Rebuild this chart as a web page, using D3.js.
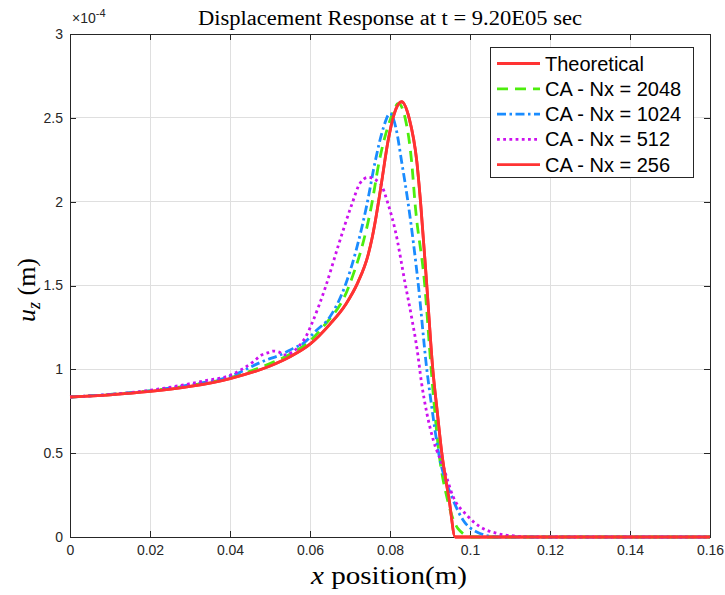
<!DOCTYPE html>
<html><head><meta charset="utf-8">
<script src="https://cdn.jsdelivr.net/npm/d3@7"></script>
<style>body{margin:0;background:#fff}</style>
</head><body>
<svg id="chart" width="725" height="595"></svg>
<script>
// ---------- data (y in units of 1e-4 m) ----------
const xTicks = [0, 0.02, 0.04, 0.06, 0.08, 0.1, 0.12, 0.14, 0.16];
const yTicks = [0, 0.5, 1, 1.5, 2, 2.5, 3];
const xTickLabels = ["0", "0.02", "0.04", "0.06", "0.08", "0.1", "0.12", "0.14", "0.16"];
const yTickLabels = ["0", "0.5", "1", "1.5", "2", "2.5", "3"];
const seriesNames = ["Theoretical", "CA - Nx = 2048", "CA - Nx = 1024", "CA - Nx = 512", "CA - Nx = 256"];

const xTheo = [0, 0.01, 0.02, 0.03, 0.04, 0.05, 0.055, 0.06, 0.065, 0.069, 0.072, 0.0745, 0.0755, 0.0763, 0.0778, 0.0795, 0.081, 0.0829, 0.0848, 0.0867, 0.0877, 0.0892, 0.0907, 0.0918, 0.0929, 0.0948, 0.0963, 0.1, 0.16];
const yTheo = [0.835, 0.848, 0.868, 0.898, 0.945, 1.02, 1.075, 1.15, 1.27, 1.39, 1.52, 1.68, 1.78, 1.88, 2.1, 2.36, 2.52, 2.596, 2.497, 2.24, 1.98, 1.5, 1.0, 0.75, 0.51, 0.22, 0, 0, 0];

const x2048 = [0, 0.01, 0.02, 0.03, 0.04, 0.05, 0.055, 0.06, 0.0633, 0.0698, 0.0754, 0.0773, 0.0802, 0.0821, 0.0838, 0.0854, 0.0863, 0.0887, 0.0903, 0.0922, 0.0944, 0.097, 0.1004, 0.16];
const y2048 = [0.835, 0.85, 0.872, 0.903, 0.95, 1.035, 1.09, 1.17, 1.254, 1.5, 1.98, 2.24, 2.497, 2.586, 2.497, 2.24, 1.98, 1.5, 1.0, 0.51, 0.22, 0.05, 0, 0];

const x1024 = [0, 0.01, 0.02, 0.03, 0.04, 0.0475, 0.049, 0.0525, 0.0558, 0.0583, 0.0615, 0.065, 0.0688, 0.0742, 0.0763, 0.0783, 0.08, 0.0815, 0.0829, 0.0846, 0.0871, 0.0892, 0.0902, 0.0921, 0.0958, 0.0983, 0.1017, 0.1067, 0.16];
const y1024 = [0.835, 0.85, 0.872, 0.908, 0.958, 1.04, 1.055, 1.085, 1.125, 1.155, 1.23, 1.314, 1.5, 1.98, 2.24, 2.437, 2.526, 2.437, 2.24, 1.98, 1.5, 1.0, 0.817, 0.51, 0.22, 0.1, 0.03, 0, 0];

const x512 = [0, 0.01, 0.02, 0.0333, 0.04, 0.0458, 0.0479, 0.0496, 0.0508, 0.0523, 0.0533, 0.0575, 0.0592, 0.0605, 0.064, 0.0671, 0.0704, 0.0725, 0.0745, 0.0775, 0.0796, 0.0813, 0.0838, 0.0854, 0.0868, 0.0879, 0.0892, 0.0908, 0.0933, 0.0958, 0.0992, 0.1025, 0.1067, 0.1117, 0.116, 0.16];
const y512 = [0.835, 0.85, 0.875, 0.93, 0.965, 1.045, 1.085, 1.10, 1.109, 1.103, 1.085, 1.145, 1.205, 1.275, 1.5, 1.74, 1.98, 2.11, 2.145, 2.11, 1.98, 1.83, 1.51, 1.31, 1.115, 0.917, 0.74, 0.58, 0.42, 0.24, 0.13, 0.061, 0.022, 0.005, 0, 0];

const x256 = [0, 0.01, 0.02, 0.03, 0.04, 0.05, 0.055, 0.06, 0.065, 0.069, 0.072, 0.0745, 0.0755, 0.0763, 0.0778, 0.0795, 0.081, 0.0829, 0.0848, 0.0867, 0.0877, 0.0892, 0.0907, 0.0918, 0.0929, 0.0948, 0.0963, 0.1, 0.16];
const y256 = [0.835, 0.848, 0.868, 0.898, 0.945, 1.02, 1.075, 1.15, 1.27, 1.39, 1.52, 1.68, 1.78, 1.88, 2.1, 2.36, 2.52, 2.596, 2.497, 2.24, 1.98, 1.5, 1.0, 0.75, 0.51, 0.22, 0, 0, 0];

// ---------- styles ----------
const styles = [
  {color: "#ff3333", dash: null},
  {color: "#4ded0d", dash: "11,7"},
  {color: "#1a8cff", dash: "9,3.5,2.5,3.5"},
  {color: "#cc11ee", dash: "2.8,3.4"},
  {color: "#ff3333", dash: null}
];
const seriesX = [xTheo, x2048, x1024, x512, x256];
const seriesY = [yTheo, y2048, y1024, y512, y256];
const series = seriesNames.map((name, i) => ({
  name, ...styles[i],
  values: seriesX[i].map((x, j) => ({x, y: seriesY[i][j]}))
}));

// ---------- layout ----------
const W = 725, H = 595;
const m = {left: 70, right: 15, top: 34, bottom: 58};
const svg = d3.select("#chart");
const x = d3.scaleLinear().domain([0, 0.16]).range([m.left, W - m.right]);
const y = d3.scaleLinear().domain([0, 3]).range([H - m.bottom, m.top]);
const sans = "'Liberation Sans', Arial, Helvetica, sans-serif";
const serif = "'Liberation Serif', 'Times New Roman', serif";
const axisColor = "#262626";

// grid
const grid = svg.append("g");
grid.selectAll(".gx").data(xTicks).join("line")
  .attr("x1", d => x(d)).attr("x2", d => x(d))
  .attr("y1", y(0)).attr("y2", y(3))
  .attr("stroke", "#dfdfdf").attr("stroke-width", 1).attr("shape-rendering", "crispEdges");
grid.selectAll(".gy").data(yTicks).join("line")
  .attr("x1", x(0)).attr("x2", x(0.16))
  .attr("y1", d => y(d)).attr("y2", d => y(d))
  .attr("stroke", "#dfdfdf").attr("stroke-width", 1).attr("shape-rendering", "crispEdges");

// axes
function styleAxis(g) {
  g.select(".domain").attr("stroke", axisColor).attr("stroke-width", 1);
  g.selectAll(".tick line").attr("stroke", axisColor).attr("stroke-width", 1);
  g.selectAll(".tick text").attr("fill", "#262626").style("font-family", sans).style("font-size", "14px");
  g.attr("shape-rendering", "crispEdges");
}
svg.append("g").attr("transform", `translate(0,${y(0)})`)
  .call(d3.axisBottom(x).tickValues(xTicks).tickFormat((d, i) => xTickLabels[i]).tickSize(-6).tickSizeOuter(0).tickPadding(8))
  .call(styleAxis);
svg.append("g").attr("transform", `translate(0,${y(3)})`)
  .call(d3.axisTop(x).tickValues(xTicks).tickFormat("").tickSize(-6).tickSizeOuter(0))
  .call(styleAxis);
svg.append("g").attr("transform", `translate(${x(0)},0)`)
  .call(d3.axisLeft(y).tickValues(yTicks).tickFormat((d, i) => yTickLabels[i]).tickSize(-6).tickSizeOuter(0).tickPadding(7))
  .call(styleAxis);
svg.append("g").attr("transform", `translate(${x(0.16)},0)`)
  .call(d3.axisRight(y).tickValues(yTicks).tickFormat("").tickSize(-6).tickSizeOuter(0))
  .call(styleAxis);

// lines
const line = d3.line().x(d => x(d.x)).y(d => y(d.y)).curve(d3.curveMonotoneX);
svg.append("g").selectAll("path").data(series).join("path")
  .attr("d", d => line(d.values))
  .attr("fill", "none")
  .attr("stroke", d => d.color)
  .attr("stroke-width", 2.8)
  .attr("stroke-dasharray", d => d.dash)
  .attr("stroke-linejoin", "round");

// exponent label
const ex = svg.append("text").attr("x", 72).attr("y", 23)
  .style("font-family", sans).style("font-size", "14px").attr("fill", "#262626");
ex.append("tspan").text("×10");
ex.append("tspan").attr("dy", -6).style("font-size", "11px").text("-4");

// title
svg.append("text").attr("x", (x(0) + x(0.16)) / 2).attr("y", 25)
  .attr("text-anchor", "middle").style("font-family", serif).style("font-size", "20px")
  .attr("textLength", 384).attr("lengthAdjust", "spacingAndGlyphs")
  .attr("fill", "#000").text("Displacement Response at t = 9.20E05 sec");

// x label
const xl = svg.append("text").attr("x", 389).attr("y", 584).attr("text-anchor", "middle")
  .style("font-family", serif).style("font-size", "26px").attr("fill", "#000")
  .attr("textLength", 156).attr("lengthAdjust", "spacingAndGlyphs");
xl.append("tspan").style("font-style", "italic").text("x");
xl.append("tspan").text(" position(m)");

// y label
const yl = svg.append("text").attr("transform", "translate(35,290) rotate(-90)").attr("text-anchor", "middle")
  .style("font-family", serif).style("font-size", "26px").attr("fill", "#000");
yl.append("tspan").style("font-style", "italic").text("u");
yl.append("tspan").style("font-style", "italic").style("font-size", "18px").attr("dy", 5).text("z");
yl.append("tspan").attr("dy", -5).text(" (m)");

// legend
const lg = svg.append("g");
lg.append("rect").attr("x", 490.5).attr("y", 47.5).attr("width", 203).attr("height", 130)
  .attr("fill", "#fff").attr("stroke", axisColor).attr("stroke-width", 1);
const items = lg.selectAll(".it").data(series).join("g")
  .attr("transform", (d, i) => `translate(0,${63.5 + i * 25.3})`);
items.append("line").attr("x1", 497).attr("x2", 540).attr("y1", 0).attr("y2", 0)
  .attr("stroke", d => d.color).attr("stroke-width", 2.8).attr("stroke-dasharray", d => d.dash);
items.append("text").attr("x", 545).attr("y", 7).text(d => d.name)
  .style("font-family", sans).style("font-size", "20px").attr("fill", "#000");
</script>
</body></html>
